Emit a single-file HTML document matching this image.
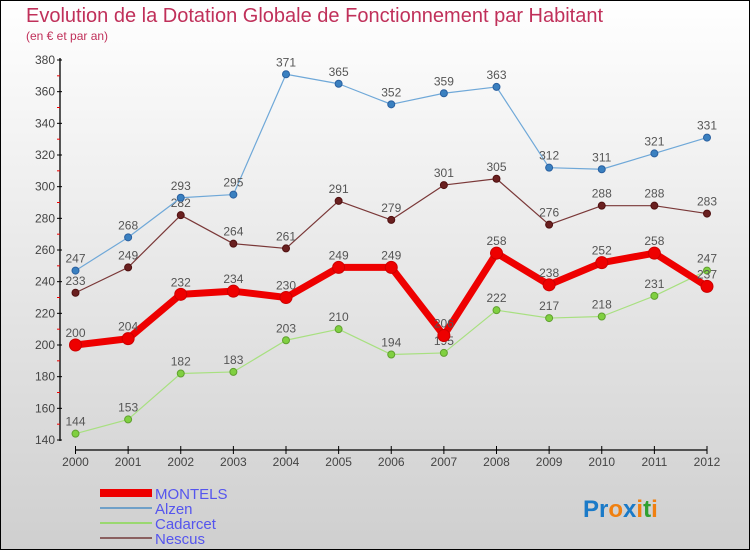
<!DOCTYPE html>
<html><head><meta charset="utf-8"><style>
body{margin:0;width:750px;height:550px;overflow:hidden;font-family:"Liberation Sans",sans-serif}
svg{display:block}
</style></head><body>
<svg id="chart" width="750" height="550" xmlns="http://www.w3.org/2000/svg">
<defs><linearGradient id="bg" x1="0" y1="0" x2="0" y2="1"><stop offset="0" stop-color="#ffffff"/><stop offset="1" stop-color="#cfcfcf"/></linearGradient></defs>
<rect x="0.5" y="0.5" width="749" height="549" fill="url(#bg)" stroke="#000"/>
<text x="26" y="22" font-size="20" fill="#c0305a">Evolution de la Dotation Globale de Fonctionnement par Habitant</text>
<text x="26" y="40" font-size="12" fill="#c0305a">(en € et par an)</text>
<g id="axes"></g>
<g id="series"></g>
<g id="legend">
<rect x="100" y="489" width="52" height="8" fill="#e00"/>
<text x="155" y="499" font-size="15" fill="#5555ee">MONTELS</text>
<line x1="100" y1="508" x2="152" y2="508" stroke="#6fa0c8" stroke-width="2"/>
<text x="155" y="514" font-size="15" fill="#5555ee">Alzen</text>
<line x1="100" y1="523" x2="152" y2="523" stroke="#9ad870" stroke-width="2"/>
<text x="155" y="529" font-size="15" fill="#5555ee">Cadarcet</text>
<line x1="100" y1="538" x2="152" y2="538" stroke="#8a6060" stroke-width="2"/>
<text x="155" y="544" font-size="15" fill="#5555ee">Nescus</text>
</g>
<text x="583" y="517" font-size="24" font-weight="bold"><tspan fill="#1a7ac8">Pr</tspan><tspan fill="#f08010">o</tspan><tspan fill="#1a7ac8">x</tspan><tspan fill="#f08010">i</tspan><tspan fill="#30a030">t</tspan><tspan fill="#f08010">i</tspan></text>
</svg>
<script>
const years=[2000,2001,2002,2003,2004,2005,2006,2007,2008,2009,2010,2011,2012];
const montels=[200,204,232,234,230,249,249,206,258,238,252,258,237];
const alzen=[247,268,293,295,371,365,352,359,363,312,311,321,331];
const cadarcet=[144,153,182,183,203,210,194,195,222,217,218,231,247];
const nescus=[233,249,282,264,261,291,279,301,305,276,288,288,283];
const yTicks=[140,160,180,200,220,240,260,280,300,320,340,360,380];
const NS="http://www.w3.org/2000/svg";
const X=i=>75.5+i*(707-75.5)/12;
const Y=v=>440-(v-140)*380/240;
function mk(tag,attrs,parent){const e=document.createElementNS(NS,tag);for(const k in attrs)e.setAttribute(k,attrs[k]);parent.appendChild(e);return e;}
const ax=document.getElementById('axes');
let e=mk('line',{x1:60,y1:58,x2:60,y2:441,stroke:'#000','stroke-width':1.3},ax);


e=mk('line',{x1:75.5,y1:450,x2:707,y2:450,stroke:'#000','stroke-width':1.3},ax);


yTicks.forEach(v=>{const y=Y(v);
mk('line',{x1:57,y1:y,x2:62,y2:y,stroke:'#000'},ax);
if(v<380)mk('line',{x1:57,y1:Y(v+10),x2:60,y2:Y(v+10),stroke:'#e00'},ax);
const t=mk('text',{x:55,y:y+4,'font-size':12,'text-anchor':'end',fill:'#444'},ax);t.textContent=v;

});
years.forEach((yr,i)=>{mk('line',{x1:X(i),y1:446,x2:X(i),y2:454,stroke:'#000'},ax);
const t=mk('text',{x:X(i),y:466,'font-size':12,'text-anchor':'middle',fill:'#444'},ax);t.textContent=yr;

});
const sg=document.getElementById('series');
function draw(data,name,color,w,r,dot,dotStroke){
const g=mk('g',{},sg);


const p=mk('polyline',{points:data.map((v,i)=>X(i)+','+Y(v)).join(' '),fill:'none',stroke:color,'stroke-width':w,'stroke-linejoin':'round'},g);


data.forEach((v,i)=>{const c=mk('circle',{cx:X(i),cy:Y(v),r:r,fill:dot,stroke:dotStroke,'stroke-width':1},g);


const t=mk('text',{x:X(i),y:Y(v)-8,'font-size':12,'text-anchor':'middle',fill:'#555'},g);t.textContent=v;

});}
draw(nescus,'nescus','#7a3838',1.2,3.5,'#6a2020','#501010');
draw(alzen,'alzen','#6fa8d8',1.2,3.5,'#3a80c0','#2a60a0');
draw(cadarcet,'cadarcet','#a8e080',1.2,3.5,'#80d040','#60a030');
draw(montels,'montels','#ee0000',7,6,'#ee0000','#cc0000');
</script>
</body></html>
